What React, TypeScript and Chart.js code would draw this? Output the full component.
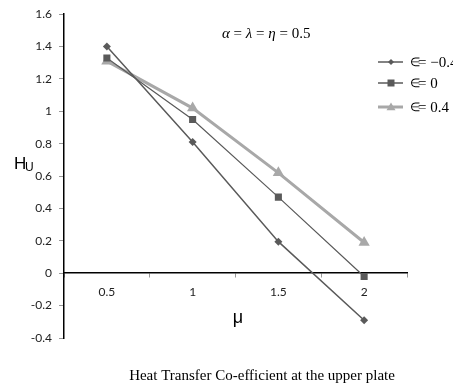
import React, { useEffect, useRef } from "react";
import { Chart, registerables } from "chart.js";

Chart.register(...registerables);

const muLabels = ["0.5", "1", "1.5", "2"];
const epsNeg04 = [1.4, 0.81, 0.195, -0.29];
const eps0 = [1.33, 0.95, 0.47, -0.02];
const epsPos04 = [1.31, 1.02, 0.62, 0.19];
const seriesValues = ["= \u22120.4", "= 0", "= 0.4"];
const seriesNames = seriesValues.map((v) => "\u2208" + v);
const titleText = "Heat Transfer Co-efficient at the upper plate";

const DARK = "#5a5a5a";
const LIGHT = "#a8a8a8";

function drawMarker(ctx: CanvasRenderingContext2D, s: string, r: number, x: number, y: number, c: string) {
  ctx.fillStyle = c;
  ctx.beginPath();
  if (s === "rectRot") {
    ctx.moveTo(x, y - r); ctx.lineTo(x + r, y); ctx.lineTo(x, y + r); ctx.lineTo(x - r, y);
  } else if (s === "rect") {
    ctx.rect(x - r, y - r, 2 * r, 2 * r);
  } else {
    ctx.moveTo(x, y - r); ctx.lineTo(x + r, y + r * 0.7); ctx.lineTo(x - r, y + r * 0.7);
  }
  ctx.closePath();
  ctx.fill();
}

const overlay = {
  id: "overlay",
  afterDraw(chart: any) {
    const ctx = chart.ctx as CanvasRenderingContext2D;
    ctx.save();
    ctx.fillStyle = "#000";
    ctx.textBaseline = "middle";
    ctx.textAlign = "left";
    const parts: [string, boolean][] = [
      ["\u03b1", true], [" = ", false], ["\u03bb", true], [" = ", false], ["\u03b7", true], [" = 0.5", false],
    ];
    let x = 222;
    for (const [t, it] of parts) {
      ctx.font = (it ? "italic " : "") + "15px 'Liberation Serif'";
      ctx.fillText(t, x, 34);
      x += ctx.measureText(t).width;
    }
    const styles = [
      { c: DARK, w: 1.5, s: "rectRot", r: 3 },
      { c: DARK, w: 1.5, s: "rect", r: 3.5 },
      { c: LIGHT, w: 3, s: "triangle", r: 4.5 },
    ];
    const ys = [62, 83, 107];
    styles.forEach((st, i) => {
      const y = ys[i];
      ctx.strokeStyle = st.c;
      ctx.lineWidth = st.w;
      ctx.beginPath();
      ctx.moveTo(378, y);
      ctx.lineTo(403, y);
      ctx.stroke();
      drawMarker(ctx, st.s, st.r, 391, y, st.c);
      ctx.fillStyle = "#000";
      ctx.textAlign = "left";
      ctx.font = "12px 'Liberation Serif'";
      ctx.fillText("\u2208", 410, y + 1);
      ctx.font = "15px 'Liberation Serif'";
      ctx.fillText(seriesValues[i], 418, y + 1);
    });
    ctx.fillStyle = "#000";
    ctx.font = "18px 'Liberation Sans'";
    ctx.textAlign = "center";
    ctx.fillText("\u03bc", 238, 318);
    ctx.textAlign = "left";
    ctx.font = "17px 'Liberation Sans'";
    ctx.fillText("H", 14, 164);
    ctx.font = "12px 'Liberation Sans'";
    ctx.fillText("U", 25, 168);
    ctx.font = "15px 'Liberation Serif'";
    ctx.textAlign = "center";
    ctx.fillText(titleText, 262, 376);
    ctx.restore();
  },
};

export default function App() {
  const ref = useRef<HTMLCanvasElement>(null);
  useEffect(() => {
    document.body.style.margin = "0";
    const chart = new Chart(ref.current!, {
      type: "line",
      data: {
        labels: muLabels,
        datasets: [
          { label: seriesNames[0], data: epsNeg04, borderColor: DARK, backgroundColor: DARK, borderWidth: 1.5, pointStyle: "rectRot", pointRadius: 4, pointBorderWidth: 0 },
          { label: seriesNames[1], data: eps0, borderColor: DARK, backgroundColor: DARK, borderWidth: 1.2, pointStyle: "rect", pointRadius: 5, pointBorderWidth: 0 },
          { label: seriesNames[2], data: epsPos04, borderColor: LIGHT, backgroundColor: LIGHT, borderWidth: 3, pointStyle: "triangle", pointRadius: 6.5, pointBorderWidth: 0 },
        ],
      },
      options: {
        animation: false,
        responsive: false,
        layout: { padding: { left: 0, right: 46, top: 13, bottom: 50 } },
        plugins: { legend: { display: false }, tooltip: { enabled: false } },
        scales: {
          x: {
            type: "category",
            position: { y: 0 } as any,
            offset: true,
            grid: { offset: true, drawOnChartArea: false, tickLength: 4, color: "#999" },
            border: { display: true, color: "#000", width: 1.5 },
            ticks: { padding: 8, color: "#222", font: { family: "Lato", size: 12 } },
            afterFit(scale: any) { scale.height = 0; },
          },
          y: {
            min: -0.4,
            max: 1.6,
            ticks: { stepSize: 0.2, padding: 7, color: "#222", font: { family: "Lato", size: 12 },
              callback: (v: any) => { const n = Math.round(Number(v) * 10) / 10; return String(n); } },
            grid: { drawOnChartArea: false, tickLength: 5, color: "#999" },
            border: { display: true, color: "#000", width: 1.5 },
            afterFit(scale: any) { scale.width = 64; },
          },
        },
      },
      plugins: [overlay],
    });
    return () => chart.destroy();
  }, []);
  return <canvas ref={ref} width={453} height={388} style={{ display: "block" }} />;
}
